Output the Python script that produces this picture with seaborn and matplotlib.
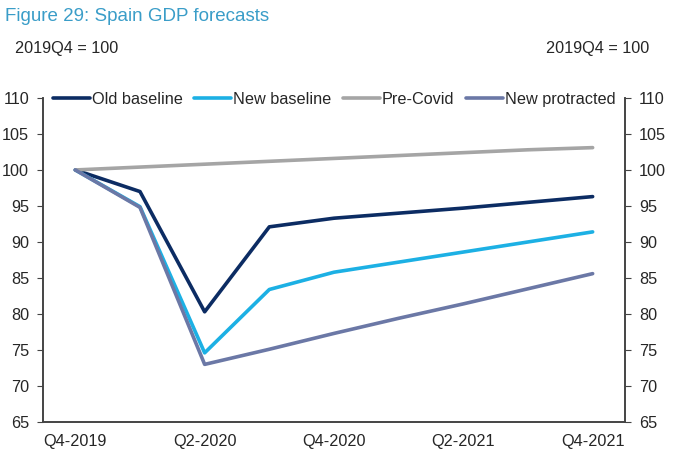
import seaborn as sns
import pandas as pd
import numpy as np
import matplotlib.pyplot as plt

# quarters, Q4-2019 .. Q4-2021
quarters = ["Q4-2019", "Q1-2020", "Q2-2020", "Q3-2020", "Q4-2020",
            "Q1-2021", "Q2-2021", "Q3-2021", "Q4-2021"]
old_baseline = [100, 97.0, 80.3, 92.1, 93.3, 94.0, 94.7, 95.5, 96.3]
new_baseline = [100, 94.9, 74.6, 83.4, 85.8, 87.2, 88.6, 90.0, 91.4]
pre_covid = [100, 100.4, 100.8, 101.2, 101.6, 102.0, 102.4, 102.8, 103.1]
new_protracted = [100, 94.8, 73.0, 75.1, 77.3, 79.4, 81.4, 83.5, 85.6]

series = {"Old baseline": old_baseline, "New baseline": new_baseline,
          "Pre-Covid": pre_covid, "New protracted": new_protracted}
colors = {"Old baseline": "#0c2c63", "New baseline": "#1cb0e4",
          "Pre-Covid": "#a5a5a5", "New protracted": "#6b78a6"}

rows = []
for name, vals in series.items():
    for i, v in enumerate(vals):
        rows.append({"x": i, "value": v, "series": name})
df = pd.DataFrame(rows)

sns.set_style("white")
plt.rcParams['font.family'] = ['Liberation Sans', 'DejaVu Sans']
fs = 11.7

fig = plt.figure(figsize=(6.78, 4.62), dpi=100)
ax = fig.add_axes([0.0634, 0.0866, 0.8584, 0.7014])

sns.lineplot(data=df, x="x", y="value", hue="series", palette=colors,
             linewidth=2.6, ax=ax, legend=True)

ax.set_xlim(-0.5, 8.5)
ax.set_ylim(65, 110)
yticks = np.arange(65, 111, 5)
ax.set_yticks(yticks)
ax.set_yticklabels([str(t) for t in yticks], fontsize=fs)
# ticks at category boundaries, labels at category centres
ax.set_xticks([-0.5, 1.5, 3.5, 5.5, 7.5])
ax.set_xticklabels([])
ax.set_xticks([0, 2, 4, 6, 8], minor=True)
ax.set_xticklabels([quarters[i] for i in [0, 2, 4, 6, 8]], minor=True, fontsize=fs)
ax.tick_params(axis="x", which="minor", length=0, pad=9)
ax.tick_params(axis="x", which="major", length=4, color="#444444", direction="out")
ax.tick_params(axis="y", length=4, color="#444444", direction="out", pad=6)
ax.set_xlabel("")
ax.set_ylabel("")

ax2 = ax.twinx()
ax2.set_ylim(65, 110)
ax2.set_yticks(yticks)
ax2.set_yticklabels([str(t) for t in yticks], fontsize=fs)
ax2.tick_params(axis="y", length=4, color="#444444", direction="out", pad=6)

for a in (ax, ax2):
    a.spines["top"].set_visible(False)
    for s in ["left", "right", "bottom"]:
        a.spines[s].set_color("#444444")
        a.spines[s].set_linewidth(1.2)

leg = ax.legend(loc="center", bbox_to_anchor=(0.5, 0.995), ncol=4, frameon=False,
                fontsize=fs, handlelength=2.3, handletextpad=0.1, columnspacing=0.7)
for line in leg.get_lines():
    line.set_linewidth(2.6)

fig.text(0.007, 0.965, "Figure 29: Spain GDP forecasts", fontsize=13.5,
         color="#3a9dc8", ha="left", va="center")
fig.text(0.022, 0.895, "2019Q4 = 100", fontsize=fs, ha="left", va="center")
fig.text(0.957, 0.895, "2019Q4 = 100", fontsize=fs, ha="right", va="center")

fig.savefig("out.png", dpi=100)
